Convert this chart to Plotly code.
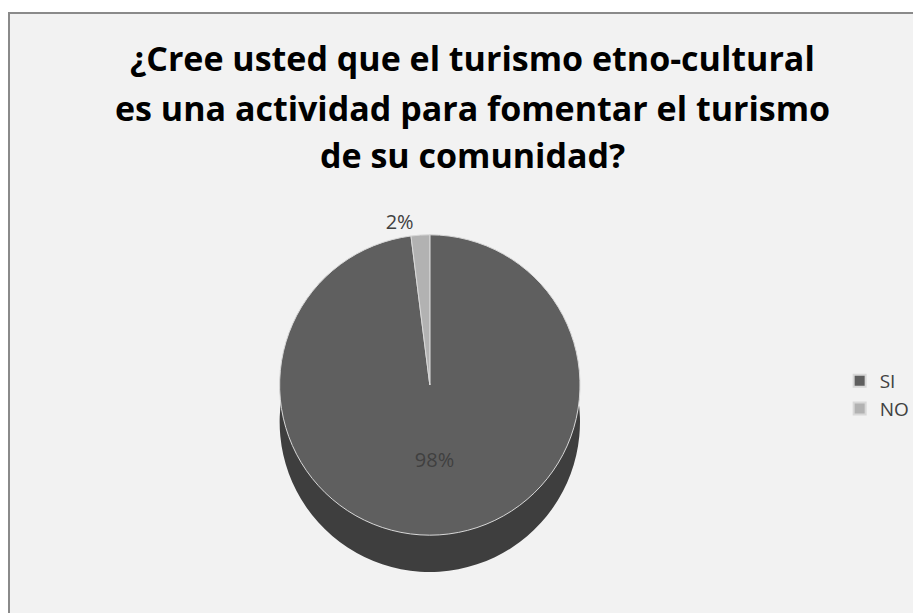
import plotly.graph_objects as go

categories = ["SI", "NO"]
values = [98, 2]
colors = ["#5f5f5f", "#b2b2b2"]
side_colors = ["#3e3e3e", "#7a7a7a"]
title_lines = [
    "¿Cree usted que el turismo etno-cultural",
    "es una actividad para fomentar el turismo",
    "de su comunidad?",
]

W, H = 921, 613

fig = go.Figure()

# depth (side) of the 3-D pie: same data, darker, drawn behind and lower
fig.add_trace(go.Pie(
    labels=categories,
    values=values,
    sort=False,
    direction="clockwise",
    rotation=0,
    marker=dict(colors=side_colors, line=dict(width=0)),
    textinfo="none",
    domain=dict(x=[0.258, 0.658], y=[0.080, 0.570]),
    showlegend=False,
    hoverinfo="skip",
))

fig.add_trace(go.Pie(
    labels=categories,
    values=values,
    sort=False,
    direction="clockwise",
    rotation=0,
    marker=dict(colors=colors, line=dict(color="#d8d8d8", width=1)),
    texttemplate="%{percent:.0%}",
    textposition=["inside", "outside"],
    textfont=dict(family="Open Sans", size=20, color="#404040"),
    insidetextorientation="horizontal",
    domain=dict(x=[0.258, 0.658], y=[0.140, 0.630]),
    showlegend=True,
    hoverinfo="label+percent",
))

title_y = [50, 100, 147]
annotations = [
    dict(text=t, x=0.504, y=1 - yy / H, xref="paper", yref="paper",
         xanchor="center", yanchor="middle", showarrow=False,
         font=dict(family="Open Sans", size=34, color="#000000", weight="bold"))
    for t, yy in zip(title_lines, title_y)
]

fig.update_layout(
    width=W, height=H,
    margin=dict(l=0, r=0, t=0, b=0, autoexpand=False),
    paper_bgcolor="white",
    plot_bgcolor="white",
    annotations=annotations,
    legend=dict(
        x=0.903, xanchor="left",
        y=1 - 354 / H, yanchor="top",
        font=dict(family="Open Sans", size=19, color="#404040"),
        bgcolor="rgba(0,0,0,0)",
        itemsizing="constant",
    ),
    shapes=[dict(
        type="rect", xref="paper", yref="paper",
        x0=1 / W, x1=1.02, y0=-0.02, y1=1 - 5 / H,
        fillcolor="#f2f2f2", line=dict(color="#8a8a8a", width=2),
        layer="below",
    )],
)

fig.write_html("out.html")
